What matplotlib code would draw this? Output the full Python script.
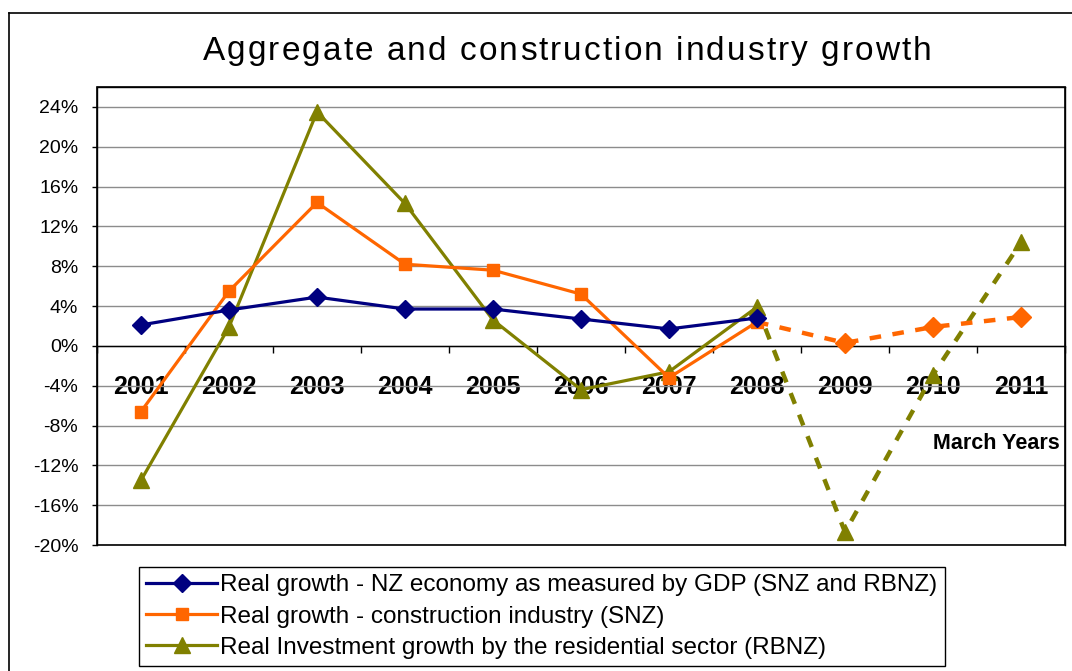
import matplotlib
matplotlib.use('Agg')
import matplotlib.pyplot as plt
from matplotlib.patches import Rectangle
from matplotlib.lines import Line2D

# data (percent)
years = ['2001', '2002', '2003', '2004', '2005', '2006', '2007', '2008', '2009', '2010', '2011']
gdp = [2.1, 3.6, 4.9, 3.7, 3.7, 2.7, 1.7, 2.8]
construction = [-6.6, 5.5, 14.4, 8.2, 7.6, 5.2, -3.2, 2.4]
construction_fc = [2.4, 0.3, 1.9, 2.9]
residential = [-13.5, 1.9, 23.5, 14.3, 2.6, -4.4, -2.6, 3.9]
residential_fc = [3.9, -18.7, -2.9, 10.4]
yticks = [-20, -16, -12, -8, -4, 0, 4, 8, 12, 16, 20, 24]

title = 'Aggregate and construction industry growth'
labels = ['Real growth - NZ economy as measured by GDP (SNZ and RBNZ)',
          'Real growth - construction industry (SNZ)',
          'Real Investment growth by the residential sector (RBNZ)']

navy = '#000080'
orange = '#FF6600'
olive = '#808000'

fig = plt.figure(figsize=(10.72, 6.71), dpi=100)
ax = fig.add_axes([97/1072, 1-545/671, (1065-97)/1072, (545-87)/671])

x = list(range(len(years)))
n = len(gdp)
xf = x[n-1:]

ax.plot(x[:n], gdp, color=navy, lw=2.3, marker='D', ms=9, label=labels[0], zorder=5)
ax.plot(x[:n], construction, color=orange, lw=2.3, marker='s', ms=8, label=labels[1], zorder=4)
ax.plot(x[:n], residential, color=olive, lw=2.3, marker='^', ms=11, label=labels[2], zorder=3)

ax.plot(xf, construction_fc, color=orange, lw=3.2, ls=(0, (2.6, 2.6)),
        zorder=4, label='_nolegend_')
ax.plot(xf[1:], construction_fc[1:], color=orange, lw=0, marker='D', ms=10,
        zorder=4, label='_nolegend_')
ax.plot(xf, residential_fc, color=olive, lw=3.2, ls=(0, (2.6, 2.6)),
        zorder=3, label='_nolegend_')
ax.plot(xf[1:], residential_fc[1:], color=olive, lw=0, marker='^', ms=11,
        zorder=3, label='_nolegend_')

ax.set_xlim(-0.5, len(years) - 0.5)
ax.set_ylim(-20, 26)
ax.set_yticks(yticks)
ax.set_yticklabels([f'{v}%' for v in yticks], fontsize=14, family='Liberation Sans')
ax.yaxis.grid(True, color='#8c8c8c', lw=1)
ax.set_axisbelow(True)
ax.tick_params(axis='y', direction='out', length=3.5, width=1, pad=10)

# x axis sits on the zero line
for s in ['top', 'right', 'left']:
    ax.spines[s].set_linewidth(1)
ax.spines['bottom'].set_position(('data', 0))
ax.spines['bottom'].set_linewidth(1)
ax.add_patch(Rectangle((0, 0), 1, 1, transform=ax.transAxes, fill=False,
                       ec='black', lw=1.2, zorder=6, clip_on=False))
ax.set_xticks(x)
ax.set_xticklabels(years, fontsize=18, fontweight='bold', family='Liberation Sans')
ax.set_xticks([i - 0.5 for i in range(len(years) + 1)], minor=True)
ax.tick_params(axis='x', which='major', length=0, pad=21)
ax.tick_params(axis='x', which='minor', direction='out', length=5, width=1)

ax.text(0.995, 0.222, 'March Years', transform=ax.transAxes, ha='right', va='center',
        fontsize=15.5, fontweight='bold', family='Liberation Sans')

# title with wide letter spacing, placed character by character
renderer = fig.canvas.get_renderer()
tprops = dict(fontsize=24, family='Liberation Sans')
widths = []
for ch in title:
    t = fig.text(0, 0, ch if ch != ' ' else 'a', **tprops)
    w = t.get_window_extent(renderer).width
    if ch == ' ':
        w *= 0.5
    widths.append(w)
    t.remove()
target = 729.0
gap = (target - sum(widths)) / (len(title) - 1)
xpos = 567 - target / 2
for ch, w in zip(title, widths):
    fig.text(xpos / 1072, 1 - 51/671, ch, ha='left', va='center', **tprops)
    xpos += w + gap

# outer chart frame
fig.add_artist(Line2D([9/1072, 9/1072], [0, 1-13/671], color='black', lw=1.2))
fig.add_artist(Line2D([9/1072, 1], [1-13/671, 1-13/671], color='black', lw=1.2))

leg = fig.legend(loc='upper left', bbox_to_anchor=(139/1072, 1-567/671),
                 frameon=True, fancybox=False, edgecolor='black', framealpha=1,
                 prop={'family': 'Liberation Sans', 'size': 17.5},
                 handlelength=2.9, handletextpad=0.15, labelspacing=0.38,
                 borderpad=0.3, borderaxespad=0)
leg.get_frame().set_linewidth(1)

fig.savefig('out.png', dpi=100)
